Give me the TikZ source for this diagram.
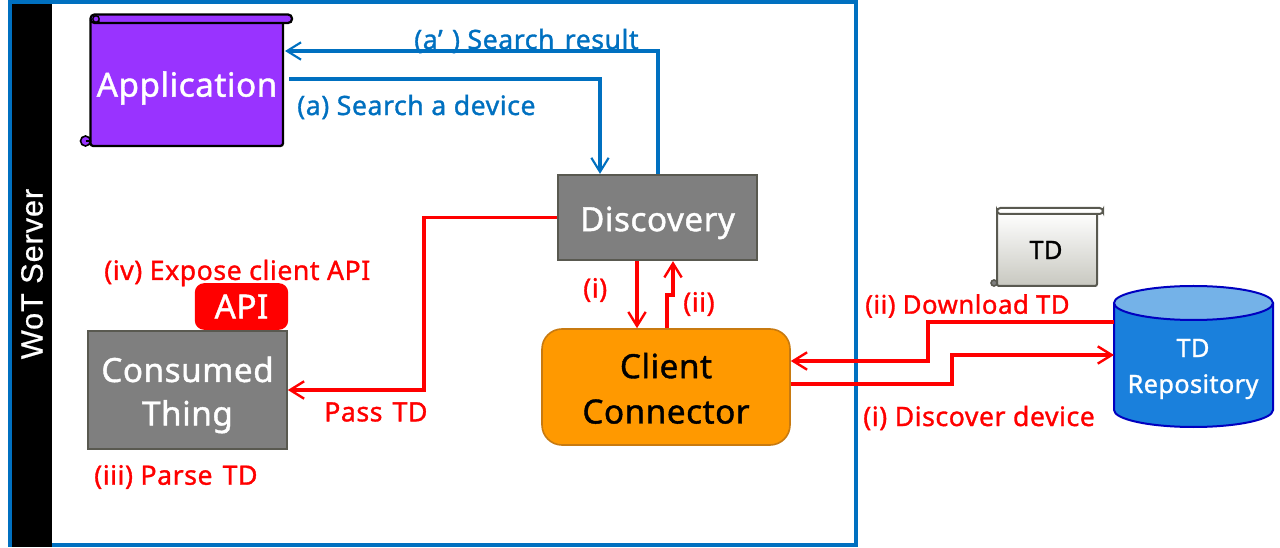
\documentclass[tikz,border=0pt]{standalone}
\usepackage{fontspec}
\setmainfont{Noto Sans}
\newfontfamily\labelfont{Noto Sans}[FakeBold=1.2,LetterSpace=2]
\newfontfamily\blockfont{Noto Sans}[FakeBold=1.2,LetterSpace=1.5]
\newfontfamily\serverfont{Liberation Sans}[FakeBold=0.6,LetterSpace=3]
\usetikzlibrary{arrows.meta}
\definecolor{frameblue}{HTML}{0070C0}
\definecolor{appviolet}{HTML}{9933FF}
\definecolor{boxgrey}{HTML}{7F7F7F}
\definecolor{boxedge}{HTML}{595950}
\definecolor{connorange}{HTML}{FF9900}
\definecolor{connedge}{HTML}{C87A10}
\definecolor{repoblue}{HTML}{1A80DC}
\definecolor{repotop}{HTML}{74B2E8}
\definecolor{repoedge}{HTML}{0000C0}
\definecolor{scrollgrey}{HTML}{C8C8C0}
\newcommand{\lowerstrut}{\rule{0pt}{26.5pt}}
\tikzset{
	block/.style={draw=boxedge,line width=1.5pt,fill=boxgrey,text=white,inner sep=0pt,align=center,font=\blockfont\fontsize{25}{32.5}\selectfont},
	scrollbody/.style={inner sep=0pt,align=center},
	redlabel/.style={text=red,inner sep=0pt,anchor=west,font=\labelfont\fontsize{20}{22}\selectfont},
	bluelabel/.style={text=frameblue,inner sep=0pt,anchor=west,font=\labelfont\fontsize{20}{22}\selectfont},
	redline/.style={draw=red,line width=2.3pt,-{Straight Barb[length=10.5pt,width=13pt,line width=1.8pt]}},
	blueline/.style={draw=frameblue,line width=2.3pt,-{Straight Barb[length=10.5pt,width=13pt,line width=1.6pt]}},
}
\begin{document}
\begin{tikzpicture}[x=.75pt,y=-.75pt]
	\useasboundingbox (0,0) rectangle (1280,548);
	
	% server frame
	\draw[frameblue,line width=3pt] (10,2.5) rectangle (855.5,545);
	\fill[black] (12,4) rectangle (52,547);
	\node[rotate=90,text=white,inner sep=0pt,font=\serverfont\fontsize{23}{24}\selectfont] (server) at (32,274) {WoT Server};
	
	% application scroll
	\draw[black,line width=1.7pt,fill=appviolet,rounded corners=2pt] (90.5,18) -- (90.5,146) -- (283,146) -- (283,18) -- cycle;
	\draw[black,line width=1.7pt,fill=appviolet,rounded corners=3pt] (90.5,14.5) rectangle (292,23);
	\draw[black,line width=1.2pt,fill=appviolet] (85.5,141) circle (5);
	\draw[black,line width=1pt] (85.5,141) -- (90.5,141);
	\draw[black,line width=1pt] (96,19) circle (3.2) (99,19) -- (99,23);
	\node[scrollbody,text=white,font=\blockfont\fontsize{25}{30}\selectfont] (application) at (187,88) {Application};
	\coordinate (appIn) at (285,51);
	\coordinate (appOut) at (289,79);
	
	% td scroll
	\draw[boxedge,line width=1.5pt,top color=white,bottom color=scrollgrey,rounded corners=1.5pt] (997,212) -- (997,286) -- (1097,286) -- (1097,212) -- cycle;
	\draw[boxedge,line width=1.5pt,fill=white,rounded corners=2.5pt] (997,208) rectangle (1103,214);
	\draw[boxedge,line width=1.2pt,fill=boxgrey] (994,283) circle (3);
	\node[scrollbody,font=\blockfont\fontsize{19}{22}\selectfont] (td) at (1046,250) {TD};
	
	% blocks
	\node[block,minimum width=149pt,minimum height=64pt] (discovery) at (657.5,217.5) {\lowerstrut Discovery};
	\node[block,minimum width=149pt,minimum height=88pt] (consumed) at (187.5,390) {\lowerstrut Consumed\\Thing};
	\node[draw=connedge,line width=1.2pt,fill=connorange,rounded corners=15pt,minimum width=186pt,minimum height=87pt,inner sep=0pt,align=center,font=\blockfont\fontsize{25}{34}\selectfont] (client) at (666,387) {\rule{0pt}{21pt}Client\\Connector};
	\node[fill=red,text=white,rounded corners=7pt,minimum width=70pt,minimum height=35pt,inner sep=0pt,font=\blockfont\fontsize{25}{26}\selectfont] (api) at (241.5,306.5) {API};
	
	% repository
	\draw[repoedge,line width=1.5pt,fill=repoblue] (1114,303) -- (1114,410) arc[start angle=180,end angle=0,x radius=79.5,y radius=17] -- (1273,303);
	\draw[repoedge,line width=1.5pt,fill=repotop] (1193.5,303) ellipse (79.5 and 17);
	\coordinate (repoOut) at (1114,322);
	\coordinate (repoIn) at (1114,355);
	\node[text=white,inner sep=0pt,align=center,font=\blockfont\fontsize{19}{27}\selectfont] (repo) at (1193,369) {TD\\Repository};
	
	% search
	\draw[blueline] (discovery.north -| 658,0) -- (658,51) -- (appIn);
	\draw[blueline] (appOut) -- (600,79) -- (discovery.north -| 600,0);
	
	% td flow
	\draw[redline] (discovery.west) -- (424,217.5) -- (424,390) -- (consumed.east);
	\draw[redline] (discovery.south -| 637,0) -- (client.north -| 637,0);
	\draw[redline] (client.north -| 667,0) -- (667,295) -- (673,295) -- (discovery.south -| 673,0);
	\draw[redline] (repoOut) -- (928,322) -- (928,361) -- (client.east |- 0,361);
	\draw[redline] (client.east |- 0,384) -- (952,384) -- (952,355) -- (repoIn);
	
	% labels
	\node[bluelabel] (labelResult) at (414,41) {(a’\kern7pt) Search\kern2pt{} result};
	\node[bluelabel] (labelSearch) at (297,107) {(a) Search a device};
	\node[redlabel] (labelExpose) at (104,273) {(iv) Expose client API};
	\node[redlabel] (labelPass) at (324,412) {Pass\kern2pt{} TD};
	\node[redlabel] (labelParse) at (94,477) {(iii) Parse\kern2pt{} TD};
	\node[redlabel] (labelI) at (583,290) {(i)};
	\node[redlabel] (labelII) at (683,304) {(ii)};
	\node[redlabel,font=\labelfont\fontsize{19.3}{22}\selectfont] (labelDownload) at (865,306) {(ii) Download TD};
	\node[redlabel] (labelDiscover) at (863,418) {(i) Discover device};
\end{tikzpicture}
\end{document}
